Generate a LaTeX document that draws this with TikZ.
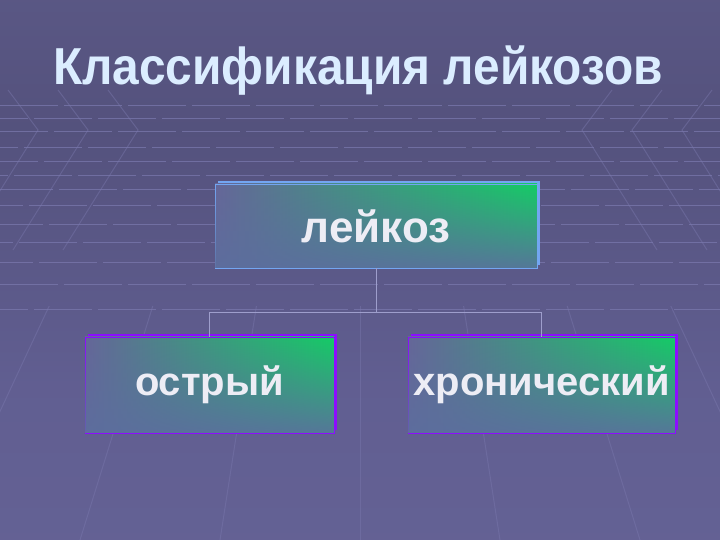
\documentclass[tikz,border=0pt]{standalone}
\usepackage{fontspec}
\setmainfont{Liberation Sans}
\usetikzlibrary{positioning,calc,shadows,fadings}

\definecolor{bgTop}{rgb}{0.42,0.40,0.61}
\definecolor{bgBand}{rgb}{0.36,0.35,0.53}
\definecolor{bgMid}{rgb}{0.33,0.32,0.49}
\definecolor{bgLow}{rgb}{0.38,0.37,0.57}
\definecolor{bgBottom}{rgb}{0.41,0.40,0.60}
\definecolor{gridColor}{rgb}{0.48,0.47,0.68}
\definecolor{linkColor}{rgb}{0.62,0.62,0.80}
\definecolor{titleColor}{rgb}{0.86,0.93,1.00}
\definecolor{boxText}{rgb}{0.93,0.93,0.96}
\definecolor{boxGrey}{rgb}{0.40,0.40,0.60}
\definecolor{boxMid}{rgb}{0.28,0.58,0.52}
\definecolor{boxGreen}{rgb}{0.08,0.80,0.40}
\definecolor{boxBottom}{rgb}{0.36,0.43,0.62}
\definecolor{rootEdge}{rgb}{0.45,0.65,0.95}
\definecolor{leafEdge}{rgb}{0.55,0.05,1.00}

\pgfdeclareverticalshading{slidebg}{100bp}{color(0bp)=(bgBottom); color(39bp)=(bgLow);
  color(63bp)=(bgMid); color(80bp)=(bgBand); color(100bp)=(bgTop)}

\tikzset{
  boxbase/.style={rectangle, inner sep=0pt, line width=0.8pt,
    font=\fontsize{40}{44}\selectfont\bfseries, text=boxText,
    left color=boxGrey, middle color=boxMid, right color=boxGreen,
    postaction={fill=boxBottom, fill opacity=0.9, path fading=north}},
  rootbox/.style={boxbase, draw=rootEdge,
    general shadow={fill=rootEdge, shadow xshift=3pt, shadow yshift=3pt}},
  leafbox/.style={boxbase, draw=leafEdge,
    general shadow={fill=leafEdge, shadow xshift=3pt, shadow yshift=3pt}},
  link/.style={draw=linkColor, line width=0.8pt},
  gridline/.style={draw=gridColor, line width=1pt, opacity=0.75},
  perspline/.style={draw=gridColor, line width=1pt, opacity=0.45},
}

\begin{document}
\begin{tikzpicture}[x=1pt,y=1pt]
\path[use as bounding box, shading=slidebg] (0,0) rectangle (720,540);

% background grid
\begin{scope}
\path[clip] (0,0) rectangle (720,540);
\foreach \y/\ph in {434/0,421/30,408/10,392/40,378/20,364/50,350/5,334/35,315/15,297/45,277/25,255/0,230/30}
  \draw[gridline, dash pattern=on 58pt off 6pt, dash phase=\ph pt] (0,\y) -- (720,\y);
\foreach \x in {-200,-60,80,220,360,500,640,780,920}
  \draw[perspline] (\x,0) -- ($(\x,0)!0.26!(360,900)$);
\foreach \x in {8,58,108}
  {\draw[perspline] (\x,450) -- (\x+30,410) -- (\x-45,290);
   \draw[perspline] (720-\x,450) -- (690-\x,410) -- (765-\x,290);}
\end{scope}

% title
\node[font=\fontsize{52}{58}\selectfont\bfseries, text=titleColor, xscale=0.92, anchor=base] (title) at (358,455) {Классификация лейкозов};

% boxes
\node[rootbox, minimum width=322pt, minimum height=84pt, font=\fontsize{44}{48}\selectfont\bfseries] (leukoz) at (376,314) {лейкоз};
\node[leafbox, minimum width=249pt, minimum height=96pt] (acute) at (209.5,155) {острый};
\node[leafbox, minimum width=267pt, minimum height=96pt] (chronic) at (541.5,155) {хронический};

% connectors
\coordinate (fork) at (leukoz.south |- 0,228);
\path[link] (leukoz.south) -- (fork);
\path[link] (fork) -| (acute.north);
\path[link] (fork) -| (chronic.north);
\end{tikzpicture}
\end{document}
